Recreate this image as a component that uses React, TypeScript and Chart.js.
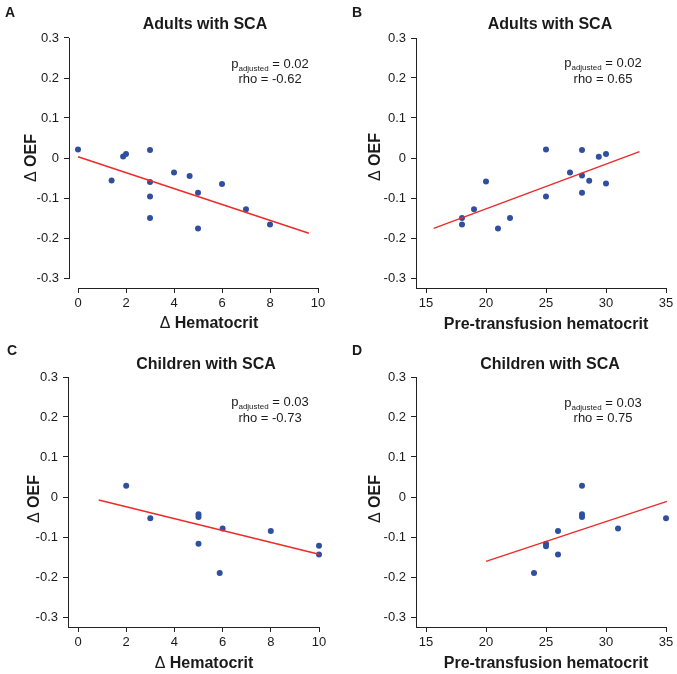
import React, { useEffect, useRef } from "react";
import { Chart, registerables } from "chart.js";

Chart.register(...registerables);

// ---------- data ----------
const yTicks = [-0.3, -0.2, -0.1, 0, 0.1, 0.2, 0.3];
const deltaHctTicks = [0, 2, 4, 6, 8, 10];
const preHctTicks = [15, 20, 25, 30, 35];

const panelLetters = ["A", "B", "C", "D"];
const panelTitles = ["Adults with SCA", "Adults with SCA", "Children with SCA", "Children with SCA"];
const xAxisTitles = ["Δ Hematocrit", "Pre-transfusion hematocrit", "Δ Hematocrit", "Pre-transfusion hematocrit"];
const yAxisTitle = "Δ OEF";
const pAdjusted = ["0.02", "0.02", "0.03", "0.03"];
const rhoValues = ["-0.62", "0.65", "-0.73", "0.75"];

// A: adults, delta hematocrit
const adultsDeltaHct = [0, 1.4, 1.88, 2, 3, 3, 3, 3, 4, 4.65, 5, 5, 6, 7, 8];
const adultsOefA = [0.021, -0.056, 0.004, 0.01, 0.02, -0.06, -0.096, -0.15, -0.036, -0.045, -0.087, -0.176, -0.065, -0.128, -0.166];
const fitAx = [0, 9.62];
const fitAy = [0.003, -0.188];

// B: adults, pre-transfusion hematocrit
const adultsPreHct = [18, 18, 19, 20, 21, 22, 25, 25, 27, 28, 28, 28, 28.6, 29.4, 30, 30];
const adultsOefB = [-0.15, -0.166, -0.128, -0.059, -0.176, -0.15, 0.021, -0.096, -0.036, 0.02, -0.044, -0.087, -0.057, 0.003, 0.01, -0.064];
const fitBx = [15.64, 32.79];
const fitBy = [-0.176, 0.016];

// C: children, delta hematocrit
const childrenDeltaHct = [2, 3, 5, 5, 5, 5.88, 6, 8, 10, 10];
const childrenOefC = [0.028, -0.053, -0.043, -0.05, -0.117, -0.19, -0.079, -0.085, -0.122, -0.144];
const fitCx = [0.86, 10];
const fitCy = [-0.0075, -0.143];

// D: children, pre-transfusion hematocrit
const childrenPreHct = [24, 25, 25, 26, 26, 28, 28, 28, 31, 35];
const childrenOefD = [-0.19, -0.117, -0.123, -0.085, -0.144, 0.028, -0.043, -0.05, -0.079, -0.053];
const fitDx = [20, 35.08];
const fitDy = [-0.161, -0.011];

// ---------- styling / layout ----------
const FONT = "'Liberation Sans', Arial, Helvetica, sans-serif";
const TEXT = "#1a1a1a";
const AXIS = "#222222";
const POINT = "#2f4f9f";
const LINE = "#ee2b2b";

type Spec = {
  box: { left: number; top: number; width: number; height: number };
  area: { left: number; right: number; top: number; bottom: number };
  xRef: [number, number, number, number];
  yRef: [number, number, number, number];
  xTicks: number[];
  offsetAxes: boolean;
  letterPos: [number, number];
  titlePos: [number, number];
  xTitlePos: [number, number];
  yTitlePos: [number, number];
  statPos: [number, number, number];
  xs: number[];
  ys: number[];
  fx: number[];
  fy: number[];
};

const specs: Spec[] = [
  {
    box: { left: 0, top: 0, width: 338, height: 335 },
    area: { left: 69, right: 325, top: 34, bottom: 288 },
    xRef: [0, 78, 10, 318],
    yRef: [0.3, 38, -0.3, 278],
    xTicks: deltaHctTicks,
    offsetAxes: true,
    letterPos: [5, 17],
    titlePos: [205, 29],
    xTitlePos: [209, 328],
    yTitlePos: [36, 158],
    statPos: [270, 68, 83],
    xs: adultsDeltaHct, ys: adultsOefA, fx: fitAx, fy: fitAy,
  },
  {
    box: { left: 338, top: 0, width: 339, height: 335 },
    area: { left: 78, right: 328, top: 38, bottom: 288 },
    xRef: [15, 88, 35, 328],
    yRef: [0.3, 38, -0.3, 278],
    xTicks: preHctTicks,
    offsetAxes: false,
    letterPos: [14, 17],
    titlePos: [212, 29],
    xTitlePos: [208, 329],
    yTitlePos: [42, 157],
    statPos: [265, 67, 83],
    xs: adultsPreHct, ys: adultsOefB, fx: fitBx, fy: fitBy,
  },
  {
    box: { left: 0, top: 335, width: 338, height: 339 },
    area: { left: 68, right: 319, top: 42, bottom: 292 },
    xRef: [0, 78, 10, 319],
    yRef: [0.3, 42, -0.3, 282],
    xTicks: deltaHctTicks,
    offsetAxes: false,
    letterPos: [7, 20],
    titlePos: [206, 34],
    xTitlePos: [204, 333],
    yTitlePos: [39, 164],
    statPos: [270, 71, 87],
    xs: childrenDeltaHct, ys: childrenOefC, fx: fitCx, fy: fitCy,
  },
  {
    box: { left: 338, top: 335, width: 339, height: 339 },
    area: { left: 78, right: 328, top: 42, bottom: 292 },
    xRef: [15, 88, 35, 328],
    yRef: [0.3, 42, -0.3, 282],
    xTicks: preHctTicks,
    offsetAxes: false,
    letterPos: [14, 20],
    titlePos: [212, 34],
    xTitlePos: [208, 333],
    yTitlePos: [42, 164],
    statPos: [265, 72, 87],
    xs: childrenPreHct, ys: childrenOefD, fx: fitDx, fy: fitDy,
  },
];

type Seg = { t: string; bold?: boolean; size: number; dy?: number };

function drawSegs(ctx: CanvasRenderingContext2D, segs: Seg[], cx: number, baseline: number) {
  let total = 0;
  const widths = segs.map((s) => {
    ctx.font = `${s.bold ? "bold " : ""}${s.size}px ${FONT}`;
    const w = ctx.measureText(s.t).width;
    total += w;
    return w;
  });
  let x = cx - total / 2;
  ctx.textAlign = "left";
  ctx.textBaseline = "alphabetic";
  segs.forEach((s, i) => {
    ctx.font = `${s.bold ? "bold " : ""}${s.size}px ${FONT}`;
    ctx.fillText(s.t, x, baseline + (s.dy || 0));
    x += widths[i];
  });
}

function titleSegs(text: string): Seg[] {
  if (text.startsWith("Δ ")) {
    return [
      { t: "Δ ", bold: false, size: 16 },
      { t: text.slice(2), bold: true, size: 16 },
    ];
  }
  return [{ t: text, bold: true, size: 16 }];
}

function makeOverlay(spec: Spec, i: number) {
  return {
    id: "overlay" + i,
    afterDraw(chart: any) {
      const ctx: CanvasRenderingContext2D = chart.ctx;
      const ca = chart.chartArea;
      const xs = chart.scales.x;
      const ys = chart.scales.y;
      ctx.save();
      // axis lines
      ctx.strokeStyle = AXIS;
      ctx.lineWidth = 1;
      const ax = Math.floor(ca.left) + 0.5;
      const ay = Math.floor(ca.bottom) + 0.5;
      const yTopPx = Math.round(ys.getPixelForValue(yTicks[yTicks.length - 1]));
      const yBotPx = spec.offsetAxes ? Math.round(ys.getPixelForValue(yTicks[0])) + 1 : ay + 0.5;
      const xLeftPx = spec.offsetAxes ? Math.round(xs.getPixelForValue(spec.xTicks[0])) : ax - 0.5;
      const xRightPx = Math.round(xs.getPixelForValue(spec.xTicks[spec.xTicks.length - 1])) + 1;
      ctx.beginPath();
      ctx.moveTo(ax, yTopPx);
      ctx.lineTo(ax, yBotPx);
      ctx.moveTo(xLeftPx, ay);
      ctx.lineTo(xRightPx, ay);
      ctx.stroke();

      ctx.fillStyle = TEXT;
      // panel letter
      ctx.font = `bold 14px ${FONT}`;
      ctx.textAlign = "left";
      ctx.textBaseline = "alphabetic";
      ctx.fillText(panelLetters[i], spec.letterPos[0], spec.letterPos[1]);
      // title
      drawSegs(ctx, [{ t: panelTitles[i], bold: true, size: 16 }], spec.titlePos[0], spec.titlePos[1]);
      // x title
      drawSegs(ctx, titleSegs(xAxisTitles[i]), spec.xTitlePos[0], spec.xTitlePos[1]);
      // y title
      ctx.save();
      ctx.translate(spec.yTitlePos[0], spec.yTitlePos[1]);
      ctx.rotate(-Math.PI / 2);
      drawSegs(ctx, titleSegs(yAxisTitle), 0, 0);
      ctx.restore();
      // stats
      drawSegs(
        ctx,
        [
          { t: "p", size: 13 },
          { t: "adjusted", size: 8, dy: 3 },
          { t: " = " + pAdjusted[i], size: 13 },
        ],
        spec.statPos[0],
        spec.statPos[1]
      );
      drawSegs(ctx, [{ t: "rho = " + rhoValues[i], size: 13 }], spec.statPos[0], spec.statPos[2]);
      ctx.restore();
    },
  };
}

function Panel({ spec, index }: { spec: Spec; index: number }) {
  const ref = useRef<HTMLCanvasElement>(null);
  useEffect(() => {
    const canvas = ref.current;
    if (!canvas) return;
    const { area, box } = spec;
    const kx = (spec.xRef[3] - spec.xRef[1]) / (spec.xRef[2] - spec.xRef[0]);
    const xmin = spec.xRef[0] + (area.left - spec.xRef[1]) / kx;
    const xmax = spec.xRef[0] + (area.right - spec.xRef[1]) / kx;
    const ky = (spec.yRef[3] - spec.yRef[1]) / (spec.yRef[2] - spec.yRef[0]);
    const ymax = spec.yRef[0] + (area.top - spec.yRef[1]) / ky;
    const ymin = spec.yRef[0] + (area.bottom - spec.yRef[1]) / ky;

    const tickFont = { family: FONT, size: 13 };
    const chart = new Chart(canvas, {
      type: "scatter",
      data: {
        datasets: [
          {
            type: "line",
            data: spec.fx.map((x, j) => ({ x, y: spec.fy[j] })),
            borderColor: LINE,
            borderWidth: 1.5,
            pointRadius: 0,
            showLine: true,
            fill: false,
            order: 0,
            clip: false,
          } as any,
          {
            type: "scatter",
            data: spec.xs.map((x, j) => ({ x, y: spec.ys[j] })),
            backgroundColor: POINT,
            borderColor: POINT,
            borderWidth: 0,
            pointRadius: 3,
            order: 1,
            clip: false,
          } as any,
        ],
      },
      options: {
        animation: false,
        responsive: false,
        maintainAspectRatio: false,
        events: [],
        layout: {
          padding: { left: 0, top: area.top, right: box.width - area.right, bottom: 0 },
        },
        plugins: { legend: { display: false }, tooltip: { enabled: false }, title: { display: false } },
        scales: {
          x: {
            type: "linear",
            min: xmin,
            max: xmax,
            border: { display: false },
            grid: { display: true, drawOnChartArea: false, drawTicks: true, tickLength: 5, tickColor: AXIS, color: AXIS, lineWidth: 1 },
            ticks: { font: tickFont, color: TEXT, padding: 3, autoSkip: false, maxRotation: 0, minRotation: 0, callback: (v: any) => String(v) },
            afterBuildTicks: (s: any) => {
              s.ticks = spec.xTicks.map((v) => ({ value: v }));
            },
            afterFit: (s: any) => {
              s.height = box.height - area.bottom;
            },
          },
          y: {
            type: "linear",
            min: ymin,
            max: ymax,
            border: { display: false },
            grid: { display: true, drawOnChartArea: false, drawTicks: true, tickLength: 5, tickColor: AXIS, color: AXIS, lineWidth: 1 },
            ticks: { font: tickFont, color: TEXT, padding: 5, autoSkip: false, callback: (v: any) => String(v) },
            afterBuildTicks: (s: any) => {
              s.ticks = yTicks.map((v) => ({ value: v }));
            },
            afterFit: (s: any) => {
              s.width = area.left;
            },
          },
        },
      } as any,
      plugins: [makeOverlay(spec, index)],
    });
    return () => chart.destroy();
  }, [spec, index]);
  return (
    <canvas
      ref={ref}
      width={spec.box.width}
      height={spec.box.height}
      style={{
        position: "absolute",
        left: spec.box.left,
        top: spec.box.top,
        width: spec.box.width,
        height: spec.box.height,
      }}
    />
  );
}

export default function App() {
  return (
    <div
      style={{
        position: "absolute",
        left: 0,
        top: 0,
        width: 677,
        height: 674,
        background: "#ffffff",
        overflow: "hidden",
      }}
    >
      {specs.map((s, i) => (
        <Panel key={i} spec={s} index={i} />
      ))}
    </div>
  );
}
